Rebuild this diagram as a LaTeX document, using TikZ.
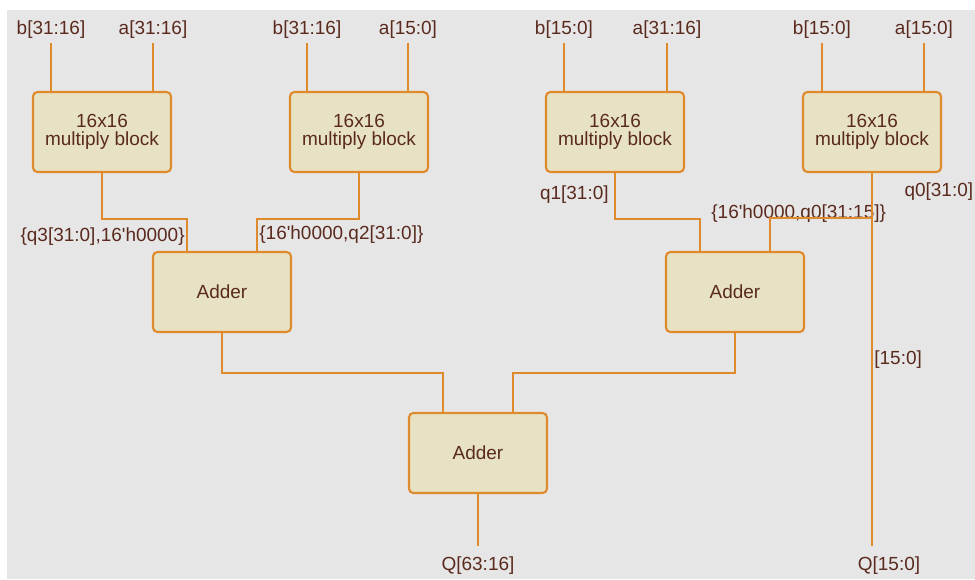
\documentclass[tikz,border=0pt]{standalone}
\usepackage{fontspec}
\setmainfont{Liberation Sans}
\usetikzlibrary{calc}

\definecolor{wirec}{HTML}{E08A2E}
\definecolor{boxfill}{HTML}{E6E2C3}
\definecolor{bgc}{HTML}{E6E6E6}
\definecolor{txtc}{HTML}{5A2A1E}

\begin{document}
\begin{tikzpicture}[
  x=0.2mm, y=-0.2mm,
  font=\fontsize{10.8}{10}\selectfont,
  blk/.style={draw=wirec, fill=boxfill, line width=1.2pt, rounded corners=2.5pt, align=center, text=txtc, minimum width=27.6mm, minimum height=16mm, inner sep=0pt},
  mul/.style={blk},
  add/.style={blk},
  sig/.style={text=txtc, inner sep=2pt},
  wire/.style={draw=wirec, line width=1.1pt}]

% ---------- background
\useasboundingbox (0,0) rectangle (975,579);
\fill[white] (0,0) rectangle (975,579);
\fill[bgc] (7,10) rectangle (975,579);

% ---------- multiply blocks
\node[mul] (M1) at (102,132) {16x16\\multiply block};
\node[mul] (M2) at (359,132) {16x16\\multiply block};
\node[mul] (M3) at (615,132) {16x16\\multiply block};
\node[mul] (M4) at (872,132) {16x16\\multiply block};

% ---------- adders
\node[add] (A1) at (222,292) {Adder};
\node[add] (A2) at (735,292) {Adder};
\node[add] (A3) at (478,453) {Adder};

% ---------- operands
\node[sig] (b1) at (51,30)  {b[31:16]};
\node[sig] (a1) at (153,30) {a[31:16]};
\node[sig] (b2) at (307,30) {b[31:16]};
\node[sig] (a2) at (408,30) {a[15:0]};
\node[sig] (b3) at (564,30) {b[15:0]};
\node[sig] (a3) at (667,30) {a[31:16]};
\node[sig] (b4) at (822,30) {b[15:0]};
\node[sig] (a4) at (924,30) {a[15:0]};

\foreach \n/\m in {b1/M1,a1/M1,b2/M2,a2/M2,b3/M3,a3/M3,b4/M4,a4/M4}
  \draw[wire] (\n.south) -- (\n.south |- \m.north);

% ---------- partial products
\node[sig, anchor=east] (lq3)  at (188.5,237) {\{q3[31:0],16\textquotesingle h0000\}};
\node[sig, anchor=west] (lq2)  at (255.5,235) {\{16\textquotesingle h0000,q2[31:0]\}};
\node[sig, anchor=east] (lq1)  at (612.5,195) {q1[31:0]};
\node[sig, anchor=east] (lq0)  at (977,192)   {q0[31:0]};
\node[sig, anchor=west] (lq0h) at (707.5,214) {\{16\textquotesingle h0000,q0[31:15]\}};
\node[sig, anchor=west] (llo)  at (870.5,360) {[15:0]};

\coordinate (tap) at (M4.south |- 0,218);
\draw[wire] (M1.south) -- ++(0,46) -| ($(A1.north west)!0.25!(A1.north east)$);
\draw[wire] (M2.south) -- ++(0,46) -| ($(A1.north west)!0.75!(A1.north east)$);
\draw[wire] (M3.south) -- ++(0,46) -| ($(A2.north west)!0.25!(A2.north east)$);
\draw[wire] ($(A2.north west)!0.75!(A2.north east)$) |- (tap);

% ---------- results
\node[sig] (QH) at (478,566) {Q[63:16]};
\node[sig] (QL) at (889,566) {Q[15:0]};

\draw[wire] (A1.south) -- ++(0,40) -| ($(A3.north west)!0.25!(A3.north east)$);
\draw[wire] (A2.south) -- ++(0,40) -| ($(A3.north west)!0.75!(A3.north east)$);
\draw[wire, shorten >=4pt] (A3.south) -- (QH.north);
\draw[wire, shorten >=4pt] (M4.south) -- (M4.south |- QL.north);
\end{tikzpicture}
\end{document}
